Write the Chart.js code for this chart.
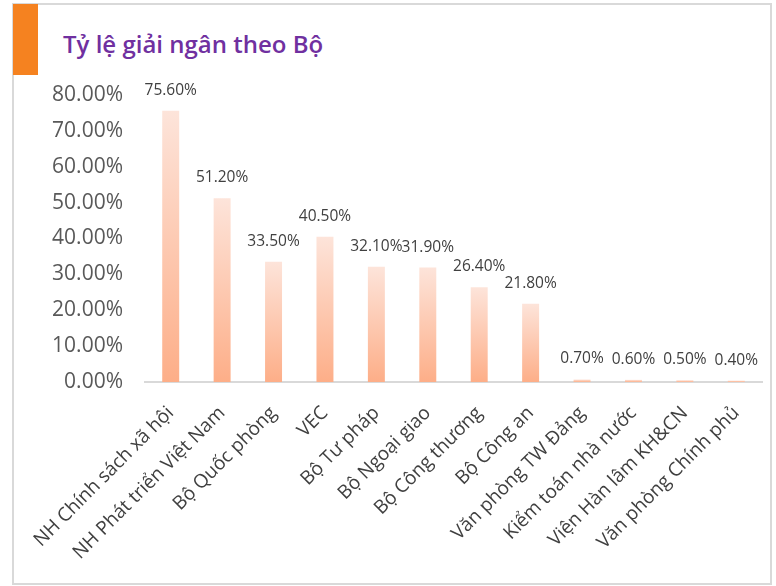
<!DOCTYPE html>
<html>
<head>
<meta charset="utf-8">
<script src="https://cdn.jsdelivr.net/npm/chart.js@4.4.1/dist/chart.umd.min.js"></script>
<style>
  body { margin: 0; background: #fff; }
  #wrap { position: relative; width: 776px; height: 586px; overflow: hidden; }
  #frame { position: absolute; left: 12px; top: 3px; width: 756px; height: 578px; border: 2px solid #d9d9d9; }
  #mark { position: absolute; left: 13px; top: 4px; width: 25px; height: 71px; background: #f58220; }
  #title { position: absolute; left: 63px; top: 27px; font-family: "Open Sans", sans-serif; font-weight: 600;
           font-size: 24px; color: #7030a0; white-space: nowrap; }
  canvas { position: absolute; left: 0; top: 0; }
</style>
</head>
<body>
<div id="wrap">
  <div id="frame"></div>
  <div id="mark"></div>
  <div id="title">Tỷ lệ giải ngân theo Bộ</div>
  <canvas id="bar-chart" width="776" height="586"></canvas>
</div>
<script>
// categories and values (%)
const ministries = ['NH Chính sách xã hội', 'NH Phát triển Việt Nam', 'Bộ Quốc phòng', 'VEC', 'Bộ Tư pháp',
  'Bộ Ngoại giao', 'Bộ Công thương', 'Bộ Công an', 'Văn phòng TW Đảng', 'Kiểm toán nhà nước',
  'Viện Hàn lâm KH&CN', 'Văn phòng Chính phủ'];
const disbursed = [75.6, 51.2, 33.5, 40.5, 32.1, 31.9, 26.4, 21.8, 0.7, 0.6, 0.5, 0.4];
const yTicks = [0, 10, 20, 30, 40, 50, 60, 70, 80];

// each bar gets its own light-to-orange gradient
function barFill(ctx) {
  const chart = ctx.chart;
  const y = chart.scales && chart.scales.y;
  if (!chart.chartArea || !y || ctx.raw === undefined) return '#fdc4a8';
  const top = y.getPixelForValue(ctx.raw);
  const bottom = y.getPixelForValue(0);
  const g = chart.ctx.createLinearGradient(0, top, 0, bottom);
  g.addColorStop(0, '#fde4da');
  g.addColorStop(1, '#fdae88');
  return g;
}

// value labels above bars
const valueLabels = {
  id: 'valueLabels',
  afterDatasetsDraw(chart) {
    const ctx = chart.ctx;
    const meta = chart.getDatasetMeta(0);
    ctx.save();
    ctx.font = '15.5px "Open Sans"';
    ctx.fillStyle = '#404040';
    ctx.textAlign = 'center';
    ctx.textBaseline = 'alphabetic';
    meta.data.forEach((bar, i) => {
      ctx.fillText(disbursed[i].toFixed(2) + '%', bar.x, bar.y - 16);
    });
    ctx.restore();
  }
};

const barCtx = document.getElementById('bar-chart').getContext('2d');
new Chart(barCtx, {
  type: 'bar',
  data: {
    labels: ministries,
    datasets: [{
      data: disbursed,
      backgroundColor: barFill,
      borderWidth: 0,
      categoryPercentage: 1,
      barPercentage: 0.33
    }]
  },
  options: {
    responsive: false,
    animation: false,
    layout: { padding: { left: 0, right: 14, top: 95, bottom: 0 } },
    plugins: { legend: { display: false }, tooltip: { enabled: false } },
    scales: {
      x: {
        grid: { display: false },
        border: { display: true, color: '#d9d9d9', width: 2 },
        ticks: {
          autoSkip: false, maxRotation: 45, minRotation: 45, padding: 12,
          color: '#404040', font: { family: 'Open Sans', size: 19 }
        },
        afterFit(scale) { scale.height = 204; }
      },
      y: {
        min: 0, max: 80,
        grid: { display: false },
        border: { display: false },
        afterBuildTicks(scale) { scale.ticks = yTicks.map(v => ({ value: v })); },
        ticks: {
          padding: 14, color: '#595959', font: { family: 'Open Sans', size: 21 },
          callback: v => v.toFixed(2) + '%'
        },
        afterFit(scale) { scale.width = 145; }
      }
    }
  },
  plugins: [valueLabels]
});
</script>
</body>
</html>
